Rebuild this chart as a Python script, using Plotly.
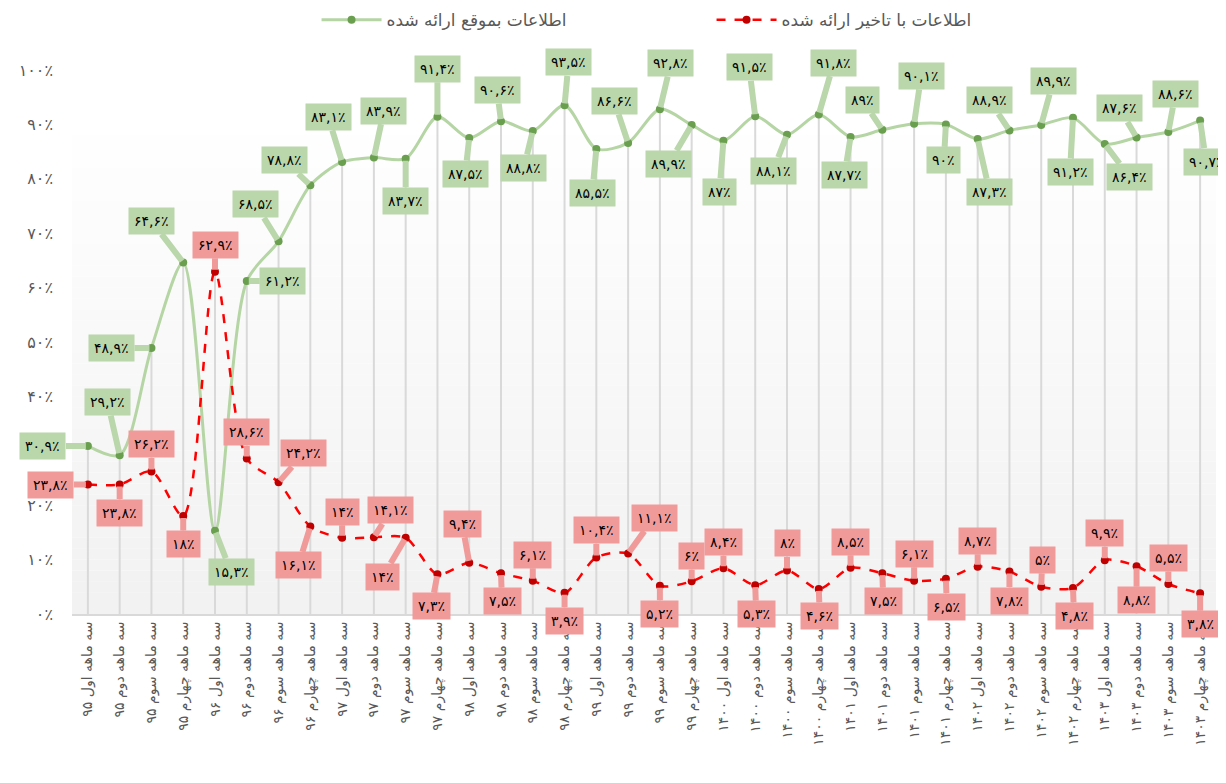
import plotly.graph_objects as go

# --- data -------------------------------------------------------------
categories = [
    "سه ماهه اول ۹۵", "سه ماهه دوم ۹۵", "سه ماهه سوم ۹۵", "سه ماهه چهارم ۹۵",
    "سه ماهه اول ۹۶", "سه ماهه دوم ۹۶", "سه ماهه سوم ۹۶", "سه ماهه چهارم ۹۶",
    "سه ماهه اول ۹۷", "سه ماهه دوم ۹۷", "سه ماهه سوم ۹۷", "سه ماهه چهارم ۹۷",
    "سه ماهه اول ۹۸", "سه ماهه دوم ۹۸", "سه ماهه سوم ۹۸", "سه ماهه چهارم ۹۸",
    "سه ماهه اول ۹۹", "سه ماهه دوم ۹۹", "سه ماهه سوم ۹۹", "سه ماهه چهارم ۹۹",
    "سه ماهه اول ۱۴۰۰", "سه ماهه دوم ۱۴۰۰", "سه ماهه سوم ۱۴۰۰", "سه ماهه چهارم ۱۴۰۰",
    "سه ماهه اول ۱۴۰۱", "سه ماهه دوم ۱۴۰۱", "سه ماهه سوم ۱۴۰۱", "سه ماهه چهارم ۱۴۰۱",
    "سه ماهه اول ۱۴۰۲", "سه ماهه دوم ۱۴۰۲", "سه ماهه سوم ۱۴۰۲", "سه ماهه چهارم ۱۴۰۲",
    "سه ماهه اول ۱۴۰۳", "سه ماهه دوم ۱۴۰۳", "سه ماهه سوم ۱۴۰۳", "سه ماهه چهارم ۱۴۰۳",
]

on_time = [30.9, 29.2, 48.9, 64.6, 15.3, 61.2, 68.5, 78.8, 83.1, 83.9, 83.7, 91.4,
           87.5, 90.6, 88.8, 93.5, 85.5, 86.6, 92.8, 89.9, 87, 91.5, 88.1, 91.8,
           87.7, 89, 90.1, 90, 87.3, 88.9, 89.9, 91.2, 86.4, 87.6, 88.6, 90.7]

delayed = [23.8, 23.8, 26.2, 18, 62.9, 28.6, 24.2, 16.1, 14, 14.1, 14, 7.3,
           9.4, 7.5, 6.1, 3.9, 10.4, 11.1, 5.2, 6, 8.4, 5.3, 8, 4.6,
           8.5, 7.5, 6.1, 6.5, 8.7, 7.8, 5, 4.8, 9.9, 8.8, 5.5, 3.8]

y_ticks = [0, 10, 20, 30, 40, 50, 60, 70, 80, 90, 100]
y_ticktext = ["۰٪", "۱۰٪", "۲۰٪", "۳۰٪", "۴۰٪", "۵۰٪", "۶۰٪", "۷۰٪", "۸۰٪", "۹۰٪", "۱۰۰٪"]

name_on_time = "اطلاعات بموقع ارائه شده"
name_delayed = "اطلاعات با تاخیر ارائه شده"

# label callout offsets in pixels (style, not data)
green_offsets = [(-45, 0), (-12, -53), (-40, 0), (-32, -42), (16, 41), (36, 0), (-23, -37),
                 (-26, -25), (-14, -45), (10, -47), (0, 42), (0, -48), (-4, 36), (-4, -31),
                 (-9, 37), (4, -43), (-4, 44), (-14, -42), (11, -46), (-23, 39), (-4, 51),
                 (-6, -49), (-14, 36), (15, -52), (-6, 38), (-20, -30), (7, -48), (-2, 36),
                 (12, 53), (-20, -30), (12, -44), (-3, 54), (25, 33), (-17, -29), (7, -38),
                 (6, 41)]
red_offsets = [(-37, 0), (0, 28), (0, -27), (0, 28), (0, -27), (0, -26), (25, -29),
               (-12, 39), (0, -26), (17, -27), (-23, 39), (-6, 32), (-7, -39), (1, 28),
               (0, -26), (0, 28), (0, -27), (26, -36), (0, 28), (0, -25), (0, -26),
               (1, 29), (0, -27), (1, 27), (0, -26), (1, 28), (0, -27), (1, 28),
               (0, -26), (0, 29), (1, -27), (1, 28), (0, -27), (0, 34), (0, -26), (0, 31)]

FONT = "DejaVu Sans"
GREEN_LINE = "#b5d5a4"
GREEN_MARK = "#6a9f4f"
GREEN_LBL = "#bad6ab"
RED_LINE = "#ff0000"
RED_MARK = "#c00000"
RED_LBL = "#f19a9a"


def fa(v):
    s = ("%g" % v).replace(".", ",")
    return s.translate(str.maketrans("0123456789", "۰۱۲۳۴۵۶۷۸۹")) + "٪"


fig = go.Figure()

# drop lines from the highest point of each category down to the axis
drop_x, drop_y = [], []
for c, a, b in zip(categories, on_time, delayed):
    drop_x += [c, c, None]
    drop_y += [0, max(a, b), None]
fig.add_trace(go.Scatter(x=drop_x, y=drop_y, mode="lines", showlegend=False,
                         hoverinfo="skip", line=dict(color="#d9d9d9", width=2)))

fig.add_trace(go.Scatter(
    x=categories, y=on_time, name=name_on_time, mode="lines+markers",
    line=dict(color=GREEN_LINE, width=3, shape="spline", smoothing=0.8),
    marker=dict(color=GREEN_MARK, size=8), cliponaxis=False))

fig.add_trace(go.Scatter(
    x=categories, y=delayed, name=name_delayed, mode="lines+markers",
    line=dict(color=RED_LINE, width=2.5, dash="dash", shape="spline", smoothing=0.8),
    marker=dict(color=RED_MARK, size=8), cliponaxis=False))

annotations = []
for vals, offs, col in ((on_time, green_offsets, GREEN_LBL), (delayed, red_offsets, RED_LBL)):
    for c, v, (ax, ay) in zip(categories, vals, offs):
        annotations.append(dict(
            x=c, y=v, xref="x", yref="y", text=fa(v), showarrow=True,
            arrowhead=0, arrowwidth=6, arrowcolor=col, ax=ax, ay=ay,
            bgcolor=col, borderpad=5, standoff=2,
            font=dict(family=FONT, size=14, color="black")))

# soft vertical gradient behind the plot area
shapes = []
n = 45
for k in range(n):
    y0 = k * 90 / n
    y1 = (k + 1) * 90 / n + 0.01
    g = int(242 + (255 - 242) * k / (n - 1))
    shapes.append(dict(type="rect", xref="paper", yref="y", x0=0, x1=1, y0=y0, y1=y1,
                       fillcolor="rgb(%d,%d,%d)" % (g, g, g), line_width=0, layer="below"))

# the page body adds an 8px offset, so the figure is sized to fit the window
fig.update_layout(
    width=1210, height=767,
    margin=dict(l=64, r=2, t=62, b=161, autoexpand=False),
    paper_bgcolor="white", plot_bgcolor="white",
    font=dict(family=FONT, size=14, color="#595959"),
    showlegend=True,
    legend=dict(orientation="h", xref="container", x=0.255, xanchor="left",
                yref="container", y=0.984, yanchor="middle",
                font=dict(size=17, color="#595959"), entrywidth=320, itemwidth=60),
    annotations=annotations,
    shapes=shapes,
    xaxis=dict(type="category", range=[-0.5, 35.5], tickangle=-90, showgrid=False,
               showline=True, linecolor="#d9d9d9", linewidth=2, ticks="",
               automargin=False, tickfont=dict(size=14, color="#595959")),
    yaxis=dict(range=[0, 100], tickvals=y_ticks, ticktext=y_ticktext, showgrid=False,
               zeroline=False, showline=False, ticks="", ticklabelstandoff=18,
               automargin=False, tickfont=dict(size=16, color="#595959")),
)

fig.write_html("out.html")
